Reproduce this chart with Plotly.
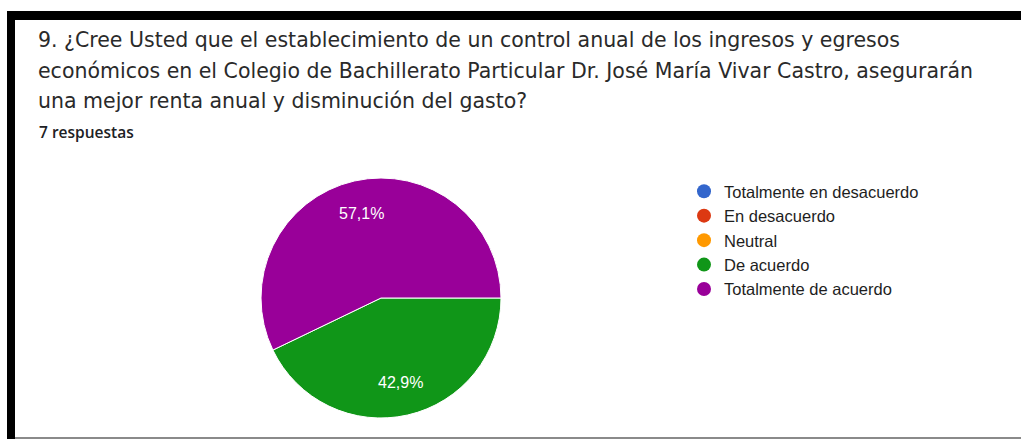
import math
import plotly.graph_objects as go

# Survey question and response summary
question_lines = [
    "9. ¿Cree Usted que el establecimiento de un control anual de los ingresos y egresos",
    "económicos en el Colegio de Bachillerato Particular Dr. José María Vivar Castro, asegurarán",
    "una mejor renta anual y disminución del gasto?",
]
responses_label = "7 respuestas"

categories = [
    "Totalmente en desacuerdo",
    "En desacuerdo",
    "Neutral",
    "De acuerdo",
    "Totalmente de acuerdo",
]
counts = [0, 0, 0, 3, 4]
colors = ["#3366cc", "#dc3912", "#ff9900", "#109618", "#990099"]

W, H = 1021, 439


def px_x(x):
    return x / W


def px_y(y):
    return 1 - y / H


fig = go.Figure()

# Pie (zero-count answers take no area)
pie_labels = [c for c, v in zip(categories, counts) if v > 0]
pie_values = [v for v in counts if v > 0]
pie_colors = [col for col, v in zip(colors, counts) if v > 0]

cx, cy, r = 381, 298, 120
start_deg = 90  # first slice starts at 3 o'clock, running clockwise
fig.add_trace(go.Pie(
    labels=pie_labels,
    values=pie_values,
    sort=False,
    direction="clockwise",
    rotation=start_deg,
    marker=dict(colors=pie_colors, line=dict(color="white", width=1)),
    textinfo="none",
    showlegend=False,
    hoverinfo="label+percent",
    domain=dict(x=[px_x(cx - r), px_x(cx + r)], y=[px_y(cy + r), px_y(cy - r)]),
))

annotations = []

# Percentage labels placed mid-slice, at about 0.72 of the radius
total = sum(pie_values)
acc = 0
for v in pie_values:
    mid = math.radians(start_deg + 360 * (acc + v / 2) / total)
    acc += v
    lx = cx + 0.72 * r * math.sin(mid)
    ly = cy - 0.72 * r * math.cos(mid)
    pct = f"{100 * v / total:.1f}".replace(".", ",") + "%"
    annotations.append(dict(
        text=pct, xref="paper", yref="paper", x=px_x(lx), y=px_y(ly),
        xanchor="center", yanchor="middle", showarrow=False,
        font=dict(family="Liberation Sans, Arial, sans-serif", size=16, color="white"),
    ))

# Legend entries for every answer option, including those with no responses
for i, (name, col) in enumerate(zip(categories, colors)):
    fig.add_trace(go.Scatter(
        x=[None], y=[None], mode="markers", name=name,
        marker=dict(symbol="circle", size=14, color=col),
        legendgroup=f"g{i}", showlegend=True, hoverinfo="skip",
    ))

for i, line in enumerate(question_lines):
    annotations.append(dict(
        text=line, xref="paper", yref="paper",
        x=px_x(36), y=px_y(40 + i * 30.5), xanchor="left", yanchor="middle",
        showarrow=False,
        font=dict(family="DejaVu Sans, sans-serif", size=20.5, color="#2a2a2a"),
    ))
annotations.append(dict(
    text=responses_label, xref="paper", yref="paper",
    x=px_x(37), y=px_y(132), xanchor="left", yanchor="middle", showarrow=False,
    font=dict(family="Open Sans, sans-serif", size=15.5, color="#202124", weight=600),
))

shapes = [
    # frame edges
    dict(type="rect", xref="paper", yref="paper", x0=px_x(7), x1=px_x(15),
         y0=0, y1=px_y(11), fillcolor="black", line_width=0, layer="above"),
    dict(type="rect", xref="paper", yref="paper", x0=px_x(7), x1=1,
         y0=px_y(20), y1=px_y(11), fillcolor="black", line_width=0, layer="above"),
    dict(type="rect", xref="paper", yref="paper", x0=px_x(15), x1=1,
         y0=0, y1=px_y(437), fillcolor="#8a8a8a", line_width=0, layer="above"),
]

fig.update_layout(
    width=W, height=H,
    margin=dict(l=0, r=0, t=0, b=0),
    paper_bgcolor="white", plot_bgcolor="white",
    xaxis=dict(visible=False), yaxis=dict(visible=False),
    legend=dict(
        x=px_x(684), y=px_y(174), xanchor="left", yanchor="top",
        font=dict(family="Liberation Sans, Arial, sans-serif", size=16.5, color="#1e1e1e"),
        tracegroupgap=0, bgcolor="rgba(0,0,0,0)",
    ),
    annotations=annotations,
    shapes=shapes,
)

fig.write_html("out.html")
